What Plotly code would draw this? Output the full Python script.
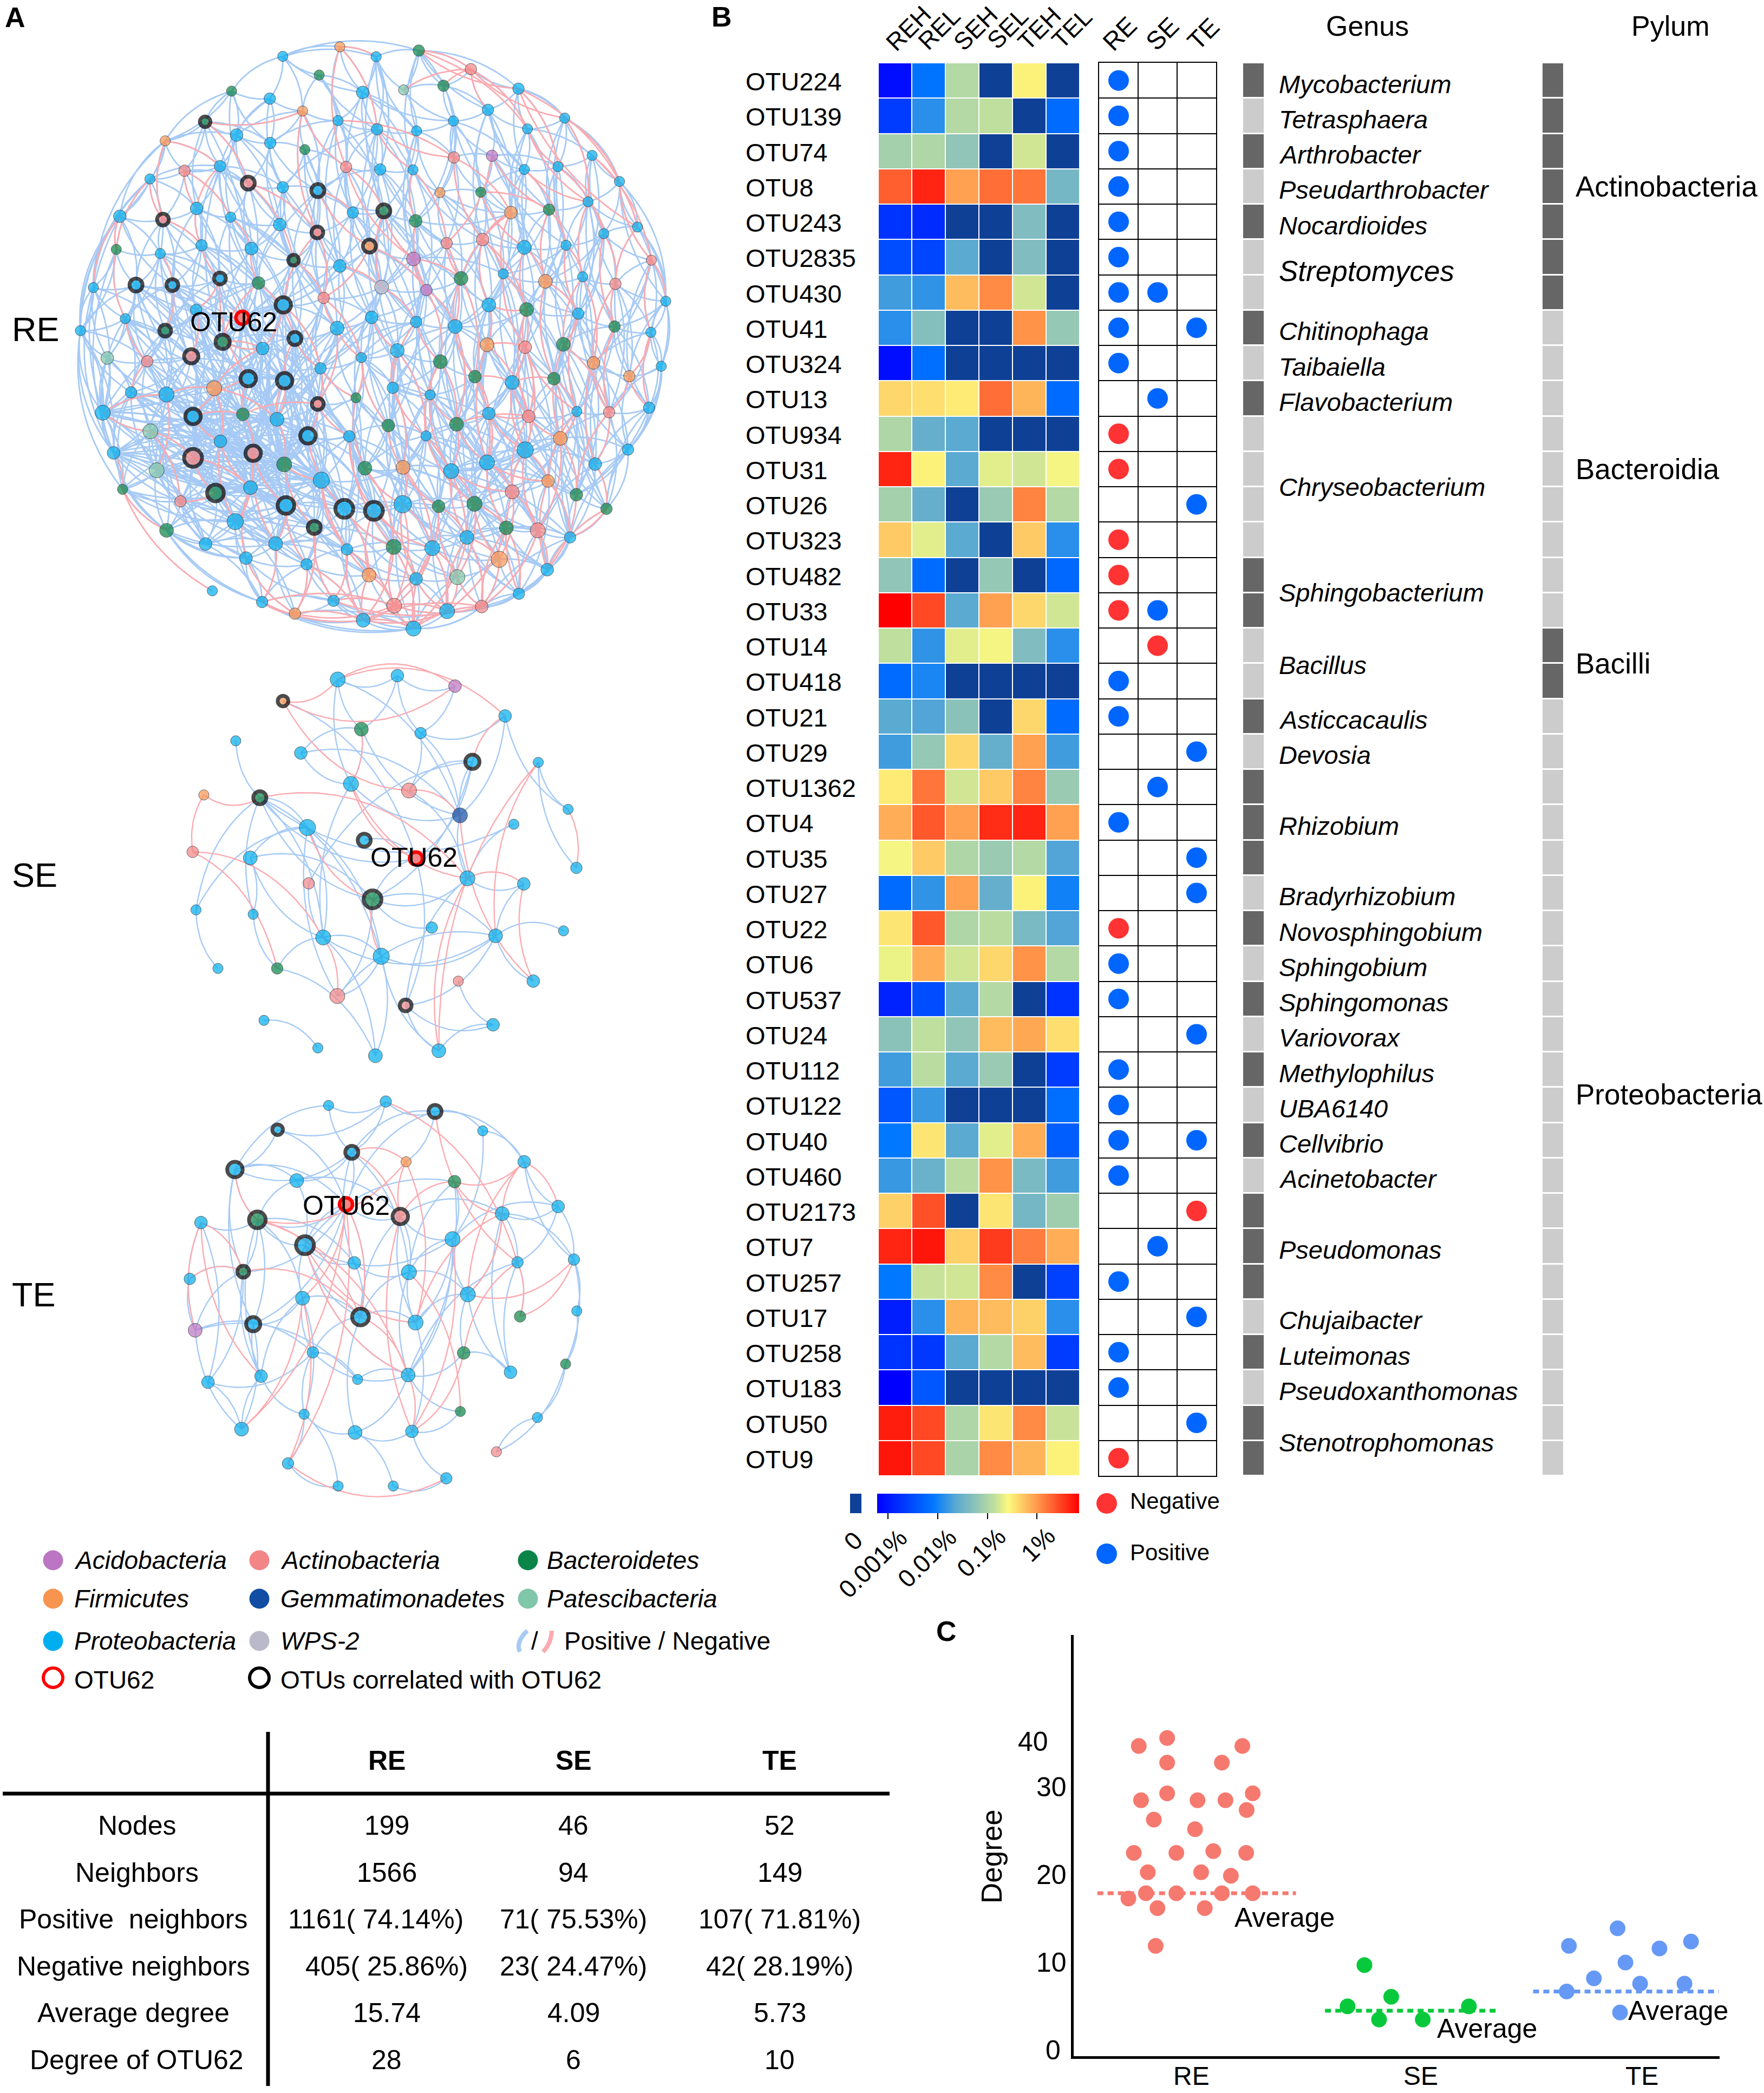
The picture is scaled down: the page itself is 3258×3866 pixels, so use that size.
import plotly.graph_objects as go

W, H = 3258, 3866
FONT = "Liberation Sans"

# ---------- panel B data ----------
otus = ["OTU224","OTU139","OTU74","OTU8","OTU243","OTU2835","OTU430","OTU41","OTU324","OTU13",
        "OTU934","OTU31","OTU26","OTU323","OTU482","OTU33","OTU14","OTU418","OTU21","OTU29",
        "OTU1362","OTU4","OTU35","OTU27","OTU22","OTU6","OTU537","OTU24","OTU112","OTU122",
        "OTU40","OTU460","OTU2173","OTU7","OTU257","OTU17","OTU258","OTU183","OTU50","OTU9"]
samples = ["REH","REL","SEH","SEL","TEH","TEL"]

# colour position, None = the dark "0" cells
N = None
heat_rows = [
    [.03,.27,.56,N,.66,N],[.14,.33,.56,.58,N,.25],[.53,.55,.49,N,.60,N],[.87,.95,.78,.85,.84,.44],
    [.12,.10,N,N,.46,N],[.18,.16,.39,N,.46,N],[.36,.34,.74,.81,.60,N],[.33,.47,N,N,.80,.50],
    [.03,.26,N,N,N,N],[.70,.69,.67,.85,.75,.25],[.55,.41,.39,N,N,N],[.95,.66,.39,.62,.60,.64],
    [.53,.41,N,.51,.82,.56],[.72,.62,.39,N,.72,.33],[.49,.25,N,.50,N,.24],[1.0,.90,.39,.78,.70,.60],
    [.58,.34,.62,.64,.46,.33],[.25,.31,N,N,N,N],[.39,.38,.48,N,.70,.25],[.36,.50,.70,.41,.78,.36],
    [.67,.84,.60,.72,.82,.51],[.76,.88,.78,.94,.95,.78],[.64,.72,.55,.51,.56,.38],[.25,.34,.78,.41,.66,.30],
    [.68,.88,.55,.57,.45,.38],[.63,.76,.60,.70,.80,.56],[.08,.18,.39,.56,N,.12],[.48,.58,.49,.74,.77,.69],
    [.36,.57,.39,.51,N,.14],[.20,.35,N,N,N,.26],[.28,.68,.39,.62,.76,.22],[.35,.42,.57,.80,.45,.36],
    [.71,.89,N,.68,.44,.52],[.95,.97,.71,.92,.83,.76],[.28,.59,.60,.81,N,.15],[.07,.33,.75,.74,.71,.33],
    [.12,.13,.39,.56,.74,.14],[.0,.20,N,N,N,N],[.96,.90,.55,.68,.81,.59],[.97,.90,.54,.81,.75,.66],
]
heat_scale = [[0,"#0000ff"],[.28,"#0078ff"],[.39,"#5aaad2"],[.47,"#85bfbd"],[.58,"#bfdf9e"],[.65,"#fdf97d"],
              [.79,"#ff9a4c"],[1,"#ff0000"]]
bar_ticks = [.054,.30,.547,.791]
bar_labels = ["0.001%","0.01%","0.1%","1%"]

# 1 positive, -1 negative, 0 not significant
sig_re = [1,1,1,1,1,1,1,1,1,0,-1,-1,0,-1,-1,-1,0,1,1,0,0,1,0,0,-1,1,1,0,1,1,1,1,0,0,1,0,1,1,0,-1]
sig_se = [0,0,0,0,0,0,1,0,0,1,0,0,0,0,0,1,-1,0,0,0,1,0,0,0,0,0,0,0,0,0,0,0,0,1,0,0,0,0,0,0]
sig_te = [0,0,0,0,0,0,0,1,0,0,0,0,1,0,0,0,0,0,0,1,0,0,1,1,0,0,0,1,0,0,1,0,-1,0,0,1,0,0,1,0]

genus_band = [1,0,1,0,1,0,0,1,0,1,0,0,0,0,1,1,0,0,1,0,1,1,1,0,1,0,1,0,1,0,1,0,1,1,1,0,1,0,1,1]
phylum_band = [1]*7 + [0]*9 + [1]*2 + [0]*22
genus_names = ["Mycobacterium","Tetrasphaera","Arthrobacter","Pseudarthrobacter","Nocardioides","Streptomyces",
               "Chitinophaga","Taibaiella","Flavobacterium","Chryseobacterium","Sphingobacterium","Bacillus",
               "Asticcacaulis","Devosia","Rhizobium","Bradyrhizobium","Novosphingobium","Sphingobium",
               "Sphingomonas","Variovorax","Methylophilus","UBA6140","Cellvibrio","Acinetobacter",
               "Pseudomonas","Chujaibacter","Luteimonas","Pseudoxanthomonas","Stenotrophomonas"]
genus_rows = [0,1,2,3,4,5.3,7,8,9,11.4,14.4,16.45,18,19,21,23,24,25,26,27,28,29,30,31,33,35,36,37,38.45]
phylum_names = ["Actinobacteria","Bacteroidia","Bacilli","Proteobacteria"]
phylum_rows = [3,11,16.5,28.7]

# ---------- panel A data ----------
phy_colors = {"C":"#BC75C2","A":"#F28585","B":"#0A8547","F":"#F79550","G":"#114EA3",
              "S":"#80C6A9","P":"#00AEEF","W":"#B9B9C9"}
legend_names = [("Acidobacteria","C"),("Actinobacteria","A"),("Bacteroidetes","B"),
                ("Firmicutes","F"),("Gemmatimonadetes","G"),("Patescibacteria","S"),
                ("Proteobacteria","P"),("WPS-2","W")]

# RE network, nodes, listed in horizontal bands
re_x = [516,601,630,711,757,808,838,899,933,988,1049,1155,
        368,457,527,602,674,753,840,928,1010,1087,1175,1258,
        334,411,490,553,630,679,708,771,847,920,980,1011,1071,1096,1168,1243,1319,1380,
        267,363,438,514,623,707,786,855,926,1138,1223,1310,1420,
        259,357,449,560,654,757,823,921,995,1075,1168,1261,1345,1451,
        208,303,384,490,576,631,721,850,950,1027,1089,1121,1215,1298,1371,1483,
        179,279,368,437,496,540,657,751,828,927,1014,1173,1288,1369,1450,
        239,328,426,553,585,634,714,805,885,981,1058,1085,1141,1170,1234,1255,1322,1402,1473,
        229,292,371,430,477,541,617,708,793,865,875,958,1017,1089,1178,1285,1357,1446,
        253,335,349,430,491,564,633,686,778,813,898,949,1005,1085,1170,1248,1326,1399,
        273,402,480,558,637,716,767,833,897,977,1057,1141,1221,1284,1351,
        371,458,524,614,700,773,877,963,1040,1128,1198,1270,
        473,548,683,822,927,1019,1112,1156,1219,
        584,657,743,809,878,921,996,1073]
re_y = [220,238,136,181,113,223,137,217,122,207,167,214,
        340,294,326,345,268,291,312,316,292,265,311,285,
        432,412,401,442,452,361,460,403,409,410,465,380,464,376,409,402,375,438,
        522,530,503,524,542,561,513,509,533,513,506,487,548,
        602,612,592,600,628,642,594,625,587,578,597,592,564,628,
        694,688,688,672,683,736,719,693,700,672,736,661,679,668,685,727,
        798,769,798,748,825,767,817,792,766,777,788,747,757,788,802,
        864,872,860,914,841,919,889,863,846,873,909,832,923,838,914,831,876,908,884,
        996,947,952,1005,937,1000,1012,975,960,1027,936,953,1024,998,1005,993,995,984,
        1093,1041,1135,1105,1065,1094,1121,1052,1053,1130,1128,1052,1137,1116,1086,1058,1120,1085,
        1181,1210,1190,1177,1220,1159,1228,1233,1217,1222,1216,1187,1161,1194,1228,
        1280,1313,1259,1312,1273,1326,1320,1323,1297,1274,1280,1297,
        1426,1347,1362,1388,1397,1393,1350,1433,1375,
        1453,1481,1450,1497,1462,1517,1475,1464]
re_w = [1,1.5,1,1,1,2,1,1,1.5,1.5,1.5,1.5,
        1,1,2,1.5,1,1,1.5,1,1,1.5,1,1,
        1,1.5,1.5,2,1.5,1,2,1.5,1.5,1,1,1.5,1,1.5,1,1,1,1,
        2,1.5,2,1,2,1.5,1.5,2,2,2,1.5,1,1,
        1,1,1.5,2,1,2,2,2.5,1.5,2,2.5,1,1,1,
        1,2,1.5,1.5,2,3,1.5,2.5,1.5,2.5,2.5,1,2.5,1,1.5,1,
        1,1,1.5,1.5,2.5,2,2,2.5,2,1.5,2.5,2.5,1.5,1.5,1,
        2,1.5,2.5,3,2,3,1.5,1,2.5,2.5,2,2.5,2.5,2,2,2.5,2,1.5,1,
        3,1.5,3,3,3,2,2.5,1.5,1,2,1.5,1,2.5,2,2,1,1.5,1.5,
        2,3,3,4,2,3,3,3,1.5,2.5,2.5,1,3,3,3.5,2.5,2,1.5,
        1,1.5,3.5,2.5,3.5,3.5,4,4,4,2,3,2.5,2,2,1.5,
        2.5,2,3.5,2.5,2,1.5,3,3,2.5,2.5,3,1.5,
        1,2,1.5,2.5,2,3,3.5,1.5,2,
        1.5,1.5,1.5,2.5,3,3,3,2]
re_phy = ("BPPBFPPSBBAP" "FBPPFPPPPPPP" "PAPAPBPAPPFABCPPPP" "PAPPPAPBBFBPP" "BPPPBPFCAAPPPA"
          "PPPPBPAWCBPPFPAP" "PPBPBAPPPPPBPBP" "SAAPPPPPPBBFPABBFFP" "PPPPFBPABBPPBPAPAP"
          "PSSAPABPPBFPPPPFPP" "BABPPPPPPBBAFBB" "BPPPBPBPPBAP" "PPPFPSFPP" "PFPPAPPA")
re_rings = [13,27,30,43,47,49,59,61,70,71,72,74,87,89,91,102,103,105,122,126,140,142,144,157,159,161,162,174]
re_otu62 = 90

# The picture has 1566 edges that cannot be traced one by one: these links are
# hand estimates (source: targets) that follow where the web is dense, not a tracing.
re_pos = {
 0:[1,13,14,15,12,27],1:[2,14,15,16,28,26],2:[6,3,5,4,16],3:[5,17,18,16,31],4:[6,17,5,18],
 5:[6,18,19,32,20,17],6:[7,8,19,18,32],7:[8,9,19,20],8:[9,20,10,19,21,33],9:[20,21,10,35],
 10:[21,22,11],11:[22,23,21,39,38],12:[13,14,24,25,26,43,42],13:[14,15,26,25,27,44,16],
 14:[15,26,27,28,45,46,16],15:[16,28,27,29,46,30,17],16:[17,29,30,31,47],17:[18,31,30,32,48],
 18:[19,32,33,31,49,48],19:[20,33,34,35,50],20:[21,35,34,36,37,38],21:[22,37,36,38,51],
 22:[23,38,39,40,52],23:[39,40,41,53],24:[25,26,42,43,44,55,56],25:[26,27,43,44,45,57],
 26:[27,28,44,45,46,57,58],27:[28,45,46,58,47],28:[29,30,46,47,59,58],29:[30,31,47,48,60],
 30:[31,32,47,48,49,60,59],31:[32,48,49,60,61],32:[33,49,50,61,62],33:[34,50,61,62,63],
 34:[35,36,50,63,64,51],35:[36,37,64,63],36:[37,38,51,64,65],37:[38,39,51,65,52],38:[39,51,52,65,66],
 39:[40,52,53,66,67],40:[41,53,54,67],41:[53,54,68,67,84],42:[43,55,56,69,70,71,85],43:[44,56,57,70,71,72],
 44:[45,57,58,71,72,73],45:[46,58,59,72,73,74],46:[47,58,59,73,74,75],47:[48,59,60,74,75,92],
 48:[49,60,61,75,76,93],49:[50,61,62,76,77],50:[51,62,63,76,77,78],51:[52,64,65,78,79,80],
 52:[53,65,66,80,81,82],53:[54,66,67,81,82,83],54:[67,68,83,84],55:[56,69,70,85,86],
 56:[57,70,71,72,86,87],57:[58,71,72,73,87,88,89],58:[59,72,73,74,89,91],59:[60,73,74,75,91,92],
 60:[61,74,75,76,92,93],61:[62,75,76,77,93,94],62:[63,76,77,78,94,95],63:[64,77,78,79,95],
 64:[65,78,79,80,95,96],65:[66,79,80,81,96,97],66:[67,80,81,82,96,97],67:[68,81,82,83,97,98],
 68:[83,84,98,99],69:[70,85,86,87,119,100],70:[71,85,86,87,88,101,100],71:[72,86,87,88,89,101,102],
 72:[73,87,88,89,102,103,104],73:[74,88,89,91,103,104,105],74:[75,89,91,92,104,105,106,103],
 75:[76,91,92,93,105,106,107],76:[77,92,93,94,107,108],77:[78,93,94,95,108,109],78:[79,94,95,109,110,111],
 79:[80,95,96,110,111,112,113],80:[81,96,97,112,113,114],81:[82,96,97,113,114,115],82:[83,97,98,115,116],
 83:[84,98,99,116,117],84:[99,117,118,98],85:[86,100,101,119,120,137],86:[87,100,101,102,119,120,121],
 87:[88,101,102,103,120,121,122],88:[89,102,103,104,121,122,123],89:[91,102,103,104,105,122,123,124],
 91:[92,104,105,106,124,125,126],92:[93,105,106,107,125,126,127],93:[94,106,107,108,126,127,128,129],
 94:[95,107,108,109,128,129,130],95:[96,108,109,110,111,130,131,132],96:[97,111,112,113,114,132,133],
 97:[98,114,115,116,133,134],98:[99,115,116,117,134,135],99:[116,117,118,135,136],
 100:[101,119,120,121,137,138],101:[102,119,120,121,122,138,139],102:[103,120,121,122,123,138,139,140],
 103:[104,105,122,123,124,125,140,141,142],104:[105,106,123,124,125,126,141,142,143],
 105:[106,124,125,126,142,143,144],106:[107,125,126,127,143,144,145],107:[108,126,127,128,129,145,146],
 108:[109,128,129,130,146,147,148],109:[110,129,130,131,147,148,149],110:[111,130,131,132,149,150],
 111:[112,131,132,150,151],112:[113,132,133,150,151,152],113:[114,133,134,151,152],114:[115,133,134,152,153],
 115:[116,134,135,152,153],116:[117,134,135,136,153,154],117:[118,135,136,154],118:[136,154,135],
 119:[120,137,138,139,155,100,121,122],120:[121,137,138,139,140,155],121:[122,137,138,139,140,141,156,157],
 122:[123,138,139,140,141,142,156,157,158],123:[124,139,140,141,142,143,157,158,159],
 124:[125,140,141,142,143,144,158,159,160],125:[126,141,142,143,144,145,159,160,161],
 126:[127,143,144,145,146,160,161,162],127:[128,144,145,146,147,161,162,163],128:[129,145,146,147,148,162,163,164],
 129:[130,146,147,148,163,164],130:[131,147,148,149,163,164,165],131:[132,148,149,150,164,165,166],
 132:[133,149,150,151,165,166,167],133:[134,150,151,152,166,167,168],134:[135,151,152,153,167,168,169],
 135:[136,152,153,154,168,169],136:[153,154,169,168],137:[138,155,156,170,171,139,119,157],
 138:[139,140,155,156,157,170,171,172],139:[140,141,155,156,157,158,170,171,172],
 140:[141,142,156,157,158,159,171,172,173],141:[142,143,157,158,159,160,172,173,174],
 142:[143,144,158,159,160,161,172,173,174,175],143:[144,145,159,160,161,162,173,174,175],
 144:[145,146,160,161,162,174,175,176],145:[146,147,161,162,163,175,176],146:[147,148,162,163,164,175,176,177],
 147:[148,149,163,164,165,176,177,178],148:[149,150,164,165,177,178],149:[150,151,164,165,166,177,178,179],
 150:[151,152,165,166,167,178,179,180],151:[152,153,166,167,168,179,180,181],152:[153,154,167,168,169,180,181],
 153:[154,168,169,181,180],154:[169,168,181],155:[156,170,171,172],156:[157,158,170,171,172,183],
 157:[158,159,171,172,173,183,184],158:[159,160,172,173,174,183,184],159:[160,161,173,174,175,184,183,185],
 160:[161,162,174,175,176,184,185],161:[162,163,175,176,185,186,184],162:[163,164,176,177,185,186],
 163:[164,165,176,177,178,186,187],164:[165,166,177,178,186,187,188],165:[166,167,178,179,187,188,189],
 166:[167,179,180,188,189,190],167:[168,180,181,189,190],168:[169,181,190],169:[181,190],
 170:[171,172,183,191],171:[172,173,183,191],172:[173,174,183,184,191,192],173:[174,175,183,184,185,191,192,193],
 174:[175,176,184,185,192,193,194],175:[176,177,184,185,186,193,194,195],176:[177,178,185,186,187,194,195,196],
 177:[178,179,186,187,188,195,196,197],178:[179,180,187,188,189,196,197,198],179:[180,181,188,189,190,197,198],
 180:[181,189,190,198],181:[190,189,198],183:[184,191,192],184:[185,191,192,193,194],185:[186,193,194,195,196],
 186:[187,195,196,197],187:[188,196,197,198],188:[189,190,197,198],189:[190,198,197],190:[198],
 191:[192,193,194,196],192:[193,194,196],193:[194,195,196],194:[195,196,197],195:[196,197,198],196:[197,198],197:[198],
}
re_neg = {
 4:[18,6,31],8:[10,11,22],10:[22,23,9,21,7],11:[41,39,54],12:[43,26],13:[27,16],16:[31,47],17:[35],18:[33,35],
 22:[39,53],23:[41,53],24:[43,55],25:[45,44],27:[47,59],30:[61,48],31:[49,62],33:[63,50],35:[64,51],36:[65,52],
 37:[52,63],38:[66,53],39:[67],40:[68,54],41:[68],42:[69,55],43:[57],47:[75,74],49:[62,76],50:[77],51:[64,78,80],
 52:[66,81],53:[67,82],54:[83],55:[86],57:[72],59:[75],60:[76],61:[77,75],62:[78,77],63:[78,95],64:[79,96,80],
 65:[81,96],66:[82,97],67:[83,98],68:[84,99],73:[91],75:[92,107],76:[94],77:[95,109],78:[110,95],79:[111,96],
 80:[113,96],81:[114,97],82:[115,116],83:[116,98],86:[101],88:[102],91:[106],92:[107,126],93:[108],94:[109,129],
 95:[110,131],96:[112,113,133],97:[115,134],98:[116,135],99:[117,136],101:[120],106:[126,127],107:[127,128],
 108:[129,148],109:[131,148,130],110:[132,150,112],111:[113,133,150],112:[133,151,114],113:[133,134,151],
 114:[134,152],115:[135,152],116:[135,153],117:[136,135],126:[145,144],127:[146],128:[147],129:[147,148],
 130:[149,131],131:[149,150,133],132:[150,133,151],133:[151,152,166],134:[152,167],135:[153,168],137:[155],
 144:[161],145:[162,176],146:[163,176],147:[164,177,163],148:[165,178],149:[165,166,178],150:[166,167,179],
 151:[166,167,180],152:[168,180],153:[169],155:[182,170],156:[157],160:[175,185],161:[176,185],162:[177,185,186],
 163:[177,186,195],164:[178,187,186],165:[179,188,187],166:[180,189,188],167:[181,190],168:[190],169:[190,181],
 173:[191],174:[193,192],175:[193,194,195],176:[194,195,196],177:[195,196,187,197],178:[196,197,188,198],
 179:[197,198,189],180:[198,190],183:[192],184:[192,194],185:[194,195],186:[195,197],187:[197,198],188:[198],
 191:[192,194,195],192:[195,194],193:[195,198],194:[195,196,197,198],195:[197,198,196],196:[198],
}
# pink threads inside the dense lower left
re_neg_left = {
 119:[121,138],121:[139,123],122:[124,141],123:[141,125],124:[142,126],125:[143,105],103:[122,124],104:[123,89],
 105:[125,91],89:[104,73],72:[88,103],71:[87,56],58:[73,45],44:[57,26],138:[156,140],140:[157,158],141:[158,172],
 142:[159,173],143:[160,174],158:[172,183],159:[173,184],74:[106,104],
}
# long links across the dense lower left
re_long = {
 119:[125,104,159,73,141,158,143,160,123,124],121:[124,105,160,142,159,143,174,104],137:[143,159,174,141,125,124,160,173],
 70:[104,124,142,105,141,143],71:[105,125,141,142,123],74:[125,143,160,144,142,159,161],
 105:[141,158,161,143,160,145],103:[159,173,143,158,160],91:[143,160,144,125],123:[144,159,105,125,160,174],
 138:[158,124,142,125,143,159,173],151:[178,130,112,149,165],150:[130,177,149,164],95:[148,80,149],108:[177,147,148],
 56:[88,122,104,123],86:[122,141,103,123,124],120:[103,142,158,141,125,143],139:[125,160,173,143,144,159],
 140:[105,160,175,143,144,161],141:[161,106,162,174,144],122:[106,143,161,144,160],101:[124,141,105,142],
 88:[125,143,124,142],57:[91,104,105],45:[91,104,75],26:[73,89,59],28:[75,92,18],6:[32,33,49],49:[78,108,94],
 62:[94,109,80],64:[110,112],79:[131,150],112:[165,148],113:[150,165],134:[150,166],152:[178,165],163:[148,187],
 176:[162,148],197:[165,186],155:[141,158,143],156:[141,143,159,173],170:[141,158,173],171:[159,143,160],
 172:[160,144,143,159],173:[160,162,145],158:[143,144,174],157:[142,143,160,144],160:[143,145,147],
 143:[105,125,126,106],144:[125,105,106,92],125:[92,93],124:[91,74,75],106:[93,94],107:[94,130],128:[148,149],
 129:[95,131],130:[150,165],148:[178,188],149:[167,152],164:[188,189],165:[190,180],178:[190,198],
}
# more estimated links over the top, middle and right of the web
re_extra = {
 5:[33,48],17:[49,60],18:[50,61],19:[49,62],20:[51,50],21:[52,64],22:[65,51],23:[66,52],
 30:[74,75],31:[76,61],32:[76,63],33:[77,64],34:[78,65],36:[79,80],37:[80,66],38:[81,80],39:[82,81],40:[83,82],
 47:[92,93],48:[94,76],49:[95,93],50:[95,79],51:[96,81],52:[97,96],53:[98,97],
 59:[106,92],60:[107,94],61:[108,95],62:[109,93],63:[110,94],64:[112,111],65:[113,114],66:[115,114],67:[116,115],68:[117,116],
 75:[126,106],76:[127,108],77:[129,130],78:[131,130],79:[132,133],80:[133,134],81:[134,135],82:[135,134],83:[136,135],
 92:[127,128],93:[129,130],94:[131,130],95:[133,150],96:[134,151],97:[135,152],98:[136,153],
 106:[145,146],107:[147,146],108:[148,149],109:[149,150],110:[151,165],111:[152,166],112:[152,167],113:[153,167],
 114:[153,168],115:[154,168],116:[169,168],126:[161,162],127:[163,162],128:[164,163],129:[165,164],130:[166,178],
 131:[167,179],132:[168,180],133:[169,181],134:[181,180],145:[177,176],146:[178,177],147:[179,178],148:[179,180],
 149:[180,181],150:[181,190],161:[186,194],162:[187,195],163:[188,196],164:[189,197],165:[190,198],
}
# arcs round the rim
re_rim = [(69,42),(42,12),(12,0),(0,2),(2,8),(8,11),(11,23),(23,41),(41,54),(54,84),(84,99),(99,118),(118,136),
          (136,154),(154,169),(169,181),(181,190),(190,189),(189,198),(198,196),(196,194),(194,191),(191,183),(183,170),
          (170,137),(137,119),(119,85),(85,69),(85,42),(69,24),(137,85),(24,85),(42,119),(12,69),(55,137),(69,137),(85,155),
          (41,84),(54,99),(68,118),(99,136),(118,154),(170,191),(183,193),(191,196),(193,197),(196,198)]

# SE and TE networks
se_x = [815,959,1098,683,1219,872,1015,569,726,1140,1299,847,987,492,627,1371,1110,1240,742,879,465,604,1004,
        1391,1128,745,1264,899,473,611,1042,1360,780,1196,920,526,669,1287,1106,814,979,637,1190,767,906,1059]
se_y = [54,47,66,93,120,144,151,165,187,203,204,243,255,263,268,289,300,316,322,345,366,377,378,
        395,414,423,424,452,471,479,503,509,521,518,555,577,577,600,600,627,644,671,679,721,735,726]
se_w = [3,2,2,1,2,2.5,1.5,1,2,2.5,1,3,3,1,2,1,3,1,3.5,2,1.5,2.5,2,1.5,3,1.5,2,4,1,1,1.5,1,3,2.5,3.5,1,1.5,2,1,3,1.5,1,2,1,2.5,2.5]
se_phy = "PPCFPBPPPPPPAFBPGPPPAPAPPAPBPPPPPPPPBPAAAPPPPP"
se_rings = [3,9,14,19,27,40]
se_otu62 = 22
se_pos = [(0,1),(0,5),(0,11),(0,16),(1,2),(1,6),(1,5),(2,6),(4,6),(4,15),(4,16),(5,8),(5,11),(5,16),(6,12),(6,16),
          (7,14),(8,11),(8,16),(9,12),(9,16),(9,27),(10,15),(10,23),(11,16),(11,32),(12,24),(14,18),(14,27),(14,32),
          (14,29),(14,17),(14,34),(17,24),(18,21),(18,32),(18,34),(18,39),(21,29),(21,27),(21,32),(25,9),(25,32),
          (27,30),(27,33),(27,39),(27,24),(28,35),(28,14),(28,18),(29,36),(32,34),(32,44),(32,33),(34,33),(34,45),
          (34,44),(36,44),(36,32),(39,34),(39,33),(40,24),(40,33),(40,45),(41,43),(42,45),(42,38),(42,40),(37,33),
          (33,31),(26,24),(26,33),(24,16)]
se_neg = [(3,0),(3,2),(3,12),(0,2),(0,4),(13,14),(13,20),(14,24),(20,36),(20,32),(5,11),(11,24),(11,22),(12,16),
          (16,37),(4,9),(15,23),(10,33),(10,45),(24,26),(26,37),(24,45),(18,27),(39,32),(27,34)]

te_x = [793,931,1050,670,1165,849,980,567,1265,716,1097,1347,835,1212,621,966,485,736,1092,1385,855,1249,587,987,458,1129,
        730,1392,870,1255,1003,471,611,755,1119,1365,502,630,985,863,1232,1111,734,1297,583,857,994,1198,695,1077,816,949]
te_y = [825,818,836,869,871,910,927,941,927,961,963,1008,1004,1021,1032,1026,1037,1078,1067,1104,1110,1109,1126,1127,1139,1167,
        1174,1197,1208,1207,1218,1232,1221,1272,1273,1293,1326,1315,1313,1321,1308,1379,1384,1390,1411,1417,1415,1452,1473,1500,1514,1514]
te_w = [1,1.5,2,1,1,2,1,3,2,2.5,2,2,2,2.5,3.5,3,2,4,3,1.5,2,1.5,1.5,3,1.5,3,2.5,1,3.5,1.5,3,2.5,2.5,1.5,2,1,2,2,2.5,1,2,1,1,1,2.5,2.5,2,1,1.5,1.5,1,1]
te_phy = "PPPPPPFPPPBPAPBAPPPPPPBPPPPPPBPCPPBBPPPPPBPPPPPAPPPP"
te_rings = [2,3,5,7,14,15,17,22,28,32]
te_otu62 = 12
te_pos = [(0,7),(0,1),(1,2),(1,3),(0,5),(1,5),(2,4),(2,8),(2,5),(2,6),(3,7),(4,8),(4,18),(5,9),(5,20),(5,23),(5,7),
          (7,14),(7,9),(7,22),(7,32),(8,11),(8,19),(9,14),(9,17),(9,15),(10,17),(10,18),(10,23),(10,38),(11,19),(11,13),
          (11,21),(11,18),(13,21),(13,25),(13,40),(13,19),(14,17),(14,22),(14,32),(14,16),(14,20),(14,26),(14,37),
          (15,18),(15,23),(15,30),(15,28),(15,13),(16,31),(16,36),(17,20),(17,18),(17,26),(17,28),(17,38),(18,23),
          (18,25),(18,30),(18,38),(19,27),(19,35),(20,23),(20,28),(21,40),(21,38),(21,29),(22,31),(22,37),(22,36),
          (23,25),(23,28),(23,30),(23,38),(24,31),(24,22),(25,30),(25,40),(25,34),(26,28),(26,32),(26,33),(26,42),
          (26,37),(27,35),(28,30),(28,45),(28,33),(30,46),(31,33),(31,39),(31,44),(32,37),(32,44),(33,39),(33,38),
          (33,42),(34,38),(34,40),(35,43),(35,47),(36,44),(36,33),(37,42),(37,44),(38,39),(38,41),(42,45),(42,50),
          (42,48),(45,46),(45,51),(45,38),(46,41),(46,49),(47,43),(49,51),(50,48)]
te_neg = [(16,22),(16,37),(16,31),(24,22),(7,14),(14,28),(14,38),(12,28),(12,26),(12,44),(12,48),(5,15),(6,5),(6,14),
          (6,15),(6,30),(10,15),(10,13),(8,10),(8,13),(8,25),(1,21),(2,21),(13,30),(13,25),(15,46),(17,30),(17,38),
          (18,46),(21,29),(21,34),(19,25),(19,29),(11,8),(22,28),(26,44),(26,48),(23,41),(28,38),(34,46),(48,49),(38,46)]

# ---------- table ----------
table_cols = ["RE","SE","TE"]
table_rows = ["Nodes","Neighbors","Positive\u00a0 neighbors","Negative neighbors","Average degree","Degree of OTU62"]
table_re = ["199","1566","1161( 74.14%)","405( 25.86%)","15.74","28"]
table_se = ["46","94","71( 75.53%)","23( 24.47%)","4.09","6"]
table_te = ["52","149","107( 71.81%)","42( 28.19%)","5.73","10"]

# ---------- panel C data (x = group position with its jitter, y on the picture's tick scale) ----------
deg_re_x = [-.235,-.109,.225,-.109,.134,-.109,.271,-.225,.026,.150,.244,-.168,.015,-.257,-.068,.096,.242,-.195,.042,.174,-.281,-.203,-.068,.134,.271,-.152,.058,-.160]
deg_re_y = [34.7,35.6,34.7,32.8,32.8,29.3,29.3,28.5,28.5,28.5,27.4,26.3,25.2,22.5,22.5,22.7,22.5,20.3,20.3,19.9,17.3,17.9,17.9,17.9,17.9,16.2,16.2,11.9]
deg_se_x = [.767,.886,.692,1.231,.832,1.026]
deg_se_y = [9.7,6.1,5.0,5.0,3.5,3.5]
deg_te_x = [1.891,2.217,1.675,2.077,1.926,1.786,1.991,2.188,1.665,1.902]
deg_te_y = [13.9,12.4,11.9,11.6,10.0,8.2,7.6,7.6,6.7,4.3]
avg_re_x, avg_re_y = [-.419,.463], [17.9,17.9]
avg_se_x, avg_se_y = [.592,1.352], [4.5,4.5]
avg_te_x, avg_te_y = [1.516,2.34], [6.7,6.7]
degree_ticks = [0,10,20,30,35.2]
degree_labels = ["0","10","20","30","40"]


def fx(px):
    return px / W


def fy(px):
    return 1 - px / H


def pairs_of(links):
    return [(a, b) for a, targets in links.items() for b in targets]


def curves(xs, ys, pairs, bend=0.17, outward=False):
    cx0, cy0 = sum(xs) / len(xs), sum(ys) / len(ys)
    out_x, out_y = [], []
    for a, b in pairs:
        x0, y0, x1, y1 = xs[a], ys[a], xs[b], ys[b]
        sign = 1 if (a * 3 + b) % 2 else -1
        mx, my = (x0 + x1) / 2, (y0 + y1) / 2
        nx, ny = -(y1 - y0), (x1 - x0)
        if outward:
            sign = 1 if (nx * (mx - cx0) + ny * (my - cy0)) > 0 else -1
        qx, qy = mx + sign * bend * nx, my + sign * bend * ny
        for i in range(13):
            t = i / 12
            out_x.append((1 - t) ** 2 * x0 + 2 * t * (1 - t) * qx + t ** 2 * x1)
            out_y.append((1 - t) ** 2 * y0 + 2 * t * (1 - t) * qy + t ** 2 * y1)
        out_x.append(None)
        out_y.append(None)
    return out_x, out_y


fig = go.Figure()

# heatmap, the dark cells are a second flat layer
col_idx = list(range(len(samples)))
row_idx = list(range(len(otus)))
fig.add_trace(go.Heatmap(z=[[1 if v is None else None for v in r] for r in heat_rows], x=col_idx, y=row_idx,
                         colorscale=[[0, "#0E4096"], [1, "#0E4096"]], showscale=False, xgap=2, ygap=2, hoverinfo="skip"))
fig.add_trace(go.Heatmap(z=heat_rows, x=col_idx, y=row_idx, colorscale=heat_scale, zmin=0, zmax=1, xgap=2, ygap=2,
                         hoverinfo="skip",
                         colorbar=dict(orientation="h", x=fx(1620), xanchor="left", y=fy(2759), yanchor="top",
                                       len=373, lenmode="pixels", thickness=36, thicknessmode="pixels",
                                       xpad=0, ypad=0, outlinewidth=0, tickvals=bar_ticks, showticklabels=False,
                                       ticks="outside", ticklen=11, tickwidth=2, tickcolor="black")))

# significance dots
for col, sig in enumerate([sig_re, sig_se, sig_te]):
    for value, color in [(1, "#0066FF"), (-1, "#FF3333")]:
        rows = [i for i, v in enumerate(sig) if v == value]
        fig.add_trace(go.Scatter(x=[col] * len(rows), y=rows, mode="markers", xaxis="x2", yaxis="y2",
                                 marker=dict(size=38, color=color), hoverinfo="skip"))

# genus / phylum strips
band_scale = [[0, "#CCCCCC"], [1, "#666666"]]
fig.add_trace(go.Heatmap(z=[[v] for v in genus_band], y=row_idx, x=[0], xaxis="x3", yaxis="y3", colorscale=band_scale,
                         zmin=0, zmax=1, showscale=False, ygap=3, hoverinfo="skip"))
fig.add_trace(go.Heatmap(z=[[v] for v in phylum_band], y=row_idx, x=[0], xaxis="x4", yaxis="y4", colorscale=band_scale,
                         zmin=0, zmax=1, showscale=False, ygap=3, hoverinfo="skip"))

# networks
POS_COL, NEG_COL = "#A6CAF5", "#FBABB0"


def add_network(xs, ys, ws, phy, rings, otu62, pos, neg, xa, ya, line=2.4, bend=0.17):
    for pairs, color in [(pos, POS_COL), (neg, NEG_COL)]:
        ex, ey = curves(xs, ys, pairs, bend=bend)
        fig.add_trace(go.Scatter(x=ex, y=ey, mode="lines", xaxis=xa, yaxis=ya, hoverinfo="skip",
                                 line=dict(color=color, width=line)))
    plain = [i for i in range(len(xs)) if i not in rings and i != otu62]
    for code, color in phy_colors.items():
        ids = [i for i in plain if phy[i] == code]
        if ids:
            fig.add_trace(go.Scatter(x=[xs[i] for i in ids], y=[ys[i] for i in ids], mode="markers", xaxis=xa, yaxis=ya,
                                     hoverinfo="skip",
                                     marker=dict(size=[14.5 + 4.5 * ws[i] for i in ids], color=color,
                                                 line=dict(color="#222222", width=1))))
    fig.add_trace(go.Scatter(x=[xs[i] for i in rings], y=[ys[i] for i in rings], mode="markers", xaxis=xa, yaxis=ya,
                             hoverinfo="skip",
                             marker=dict(size=[15 + 4.5 * ws[i] for i in rings], color=[phy_colors[phy[i]] for i in rings],
                                         line=dict(color="black", width=7))))
    fig.add_trace(go.Scatter(x=[xs[otu62]], y=[ys[otu62]], mode="markers", xaxis=xa, yaxis=ya, hoverinfo="skip",
                             marker=dict(size=24, color=phy_colors["A"], line=dict(color="#FF0000", width=6.5))))


re_pairs = pairs_of(re_pos) + pairs_of(re_long) + pairs_of(re_extra) + [(re_otu62, r) for r in re_rings]
rx, ry = curves(re_x, re_y, re_rim, bend=0.2, outward=True)
fig.add_trace(go.Scatter(x=rx, y=ry, mode="lines", xaxis="x5", yaxis="y5", hoverinfo="skip",
                         line=dict(color=POS_COL, width=2.8)))
add_network(re_x, re_y, re_w, re_phy, re_rings, re_otu62, re_pairs, pairs_of(re_neg) + pairs_of(re_neg_left), "x5", "y5", 2.8)
add_network(se_x, se_y, se_w, se_phy, se_rings, se_otu62, se_pos + [(se_otu62, r) for r in se_rings], se_neg, "x6", "y6", 2.4, 0.24)
add_network(te_x, te_y, te_w, te_phy, te_rings, te_otu62, te_pos + [(te_otu62, r) for r in te_rings], te_neg, "x6", "y6", 2.4, 0.24)

# degree panel
groups = [(deg_re_x, deg_re_y, avg_re_x, avg_re_y, "#F6796F"), (deg_se_x, deg_se_y, avg_se_x, avg_se_y, "#08C93B"),
          (deg_te_x, deg_te_y, avg_te_x, avg_te_y, "#6699F5")]
for gx, gy, ax, ay, color in groups:
    fig.add_trace(go.Scatter(x=ax, y=ay, mode="lines", xaxis="x7", yaxis="y7", hoverinfo="skip",
                             line=dict(color=color, width=7, dash="11px,8px")))
    fig.add_trace(go.Scatter(x=gx, y=gy, mode="markers", xaxis="x7", yaxis="y7", hoverinfo="skip",
                             marker=dict(size=29, color=color)))

# ---------- texts and legend pieces ----------
notes = []
shapes = []


def text(s, x, y, size=46, anchor="center", italic=False, bold=False, angle=0, xref="paper", yref="paper"):
    notes.append(dict(text=s, x=x, y=y, xref=xref, yref=yref, xanchor=anchor, yanchor="middle", showarrow=False,
                      textangle=angle, borderpad=0,
                      font=dict(family=FONT, size=size, color="black", style="italic" if italic else "normal",
                                weight=700 if bold else 400)))


def dot(cx, cy, d, fill, line=None, lw=0):
    shapes.append(dict(type="circle", xref="paper", yref="paper", x0=fx(cx - d / 2), x1=fx(cx + d / 2),
                       y0=fy(cy + d / 2), y1=fy(cy - d / 2), fillcolor=fill,
                       line=dict(color=line or fill, width=lw)))


def rule(x0, y0, x1, y1, width):
    shapes.append(dict(type="line", xref="paper", yref="paper", x0=fx(x0), x1=fx(x1), y0=fy(y0), y1=fy(y1),
                       line=dict(color="black", width=width)))


def arc(x0, y0, xc, yc, x1, y1, color):
    shapes.append(dict(type="path", xref="paper", yref="paper",
                       path=f"M {fx(x0)} {fy(y0)} Q {fx(xc)} {fy(yc)} {fx(x1)} {fy(y1)}",
                       line=dict(color=color, width=8)))


text("A", fx(28), fy(32), 52, bold=True)
text("B", fx(1333), fy(31), 52, bold=True)
text("C", fx(1748), fy(3013), 52, bold=True)
text("RE", fx(66), fy(608), 63)
text("SE", fx(64), fy(1616), 63)
text("TE", fx(62), fy(2391), 63)
text("OTU62", 520, 778, 50, xref="x5", yref="y5")
text("OTU62", 999, 376, 50, xref="x6", yref="y6")
text("OTU62", 836, 1006, 50, xref="x6", yref="y6")

for name, cx in zip(samples, [1678, 1735, 1802, 1861, 1920, 1980]):
    text(name, fx(cx), fy(53), 45, angle=-45)
for name, cx in zip(table_cols, [2067, 2146, 2222]):
    text(name, fx(cx), fy(62), 47, angle=-45)
for i, name in enumerate(otus):
    text(name, fx(1376), i + 0.03, 47, anchor="left", yref="y")
text("Genus", fx(2525), fy(48), 52)
text("Pylum", fx(3085), fy(48), 52)
for name, row in zip(genus_names, genus_rows):
    text(name, fx(2361), row + 0.1, 53 if name == "Streptomyces" else 47, anchor="left", italic=True, yref="y")
for name, row in zip(phylum_names, phylum_rows):
    text(name, fx(2909), row, 53, anchor="left", yref="y")

# "0" box, colour bar labels and Negative / Positive key
shapes.append(dict(type="rect", xref="paper", yref="paper", x0=fx(1570), x1=fx(1591), y0=fy(2795), y1=fy(2759),
                   fillcolor="#0E4096", line=dict(width=0)))
text("0", fx(1576), fy(2846), 46, angle=-45)
for name, cx, cy in zip(bar_labels, [1612, 1712, 1812, 1917], [2888, 2878, 2868, 2853]):
    text(name, fx(cx), fy(cy), 46, angle=-45)
dot(2044, 2777, 38, "#FF3333")
dot(2044, 2870, 38, "#0066FF")
text("Negative", fx(2086), fy(2772), 42, anchor="left")
text("Positive", fx(2086), fy(2867), 42, anchor="left")

# phylum legend
legend_cells = [(98, 136, 2882), (479, 517, 2882), (975, 1009, 2882), (98, 136, 2953), (479, 517, 2953),
                (975, 1009, 2953), (98, 136, 3031), (479, 517, 3031)]
for (name, code), (cx, tx, cy) in zip(legend_names, legend_cells):
    dot(cx, cy, 37, phy_colors[code])
    text(name, fx(tx), fy(cy), 46, anchor="left", italic=True)
arc(974, 3012, 952, 3033, 960, 3051, POS_COL)
arc(1019, 3012, 1018, 3036, 1003, 3051, NEG_COL)
text("/", fx(987), fy(3031), 46)
text("Positive / Negative", fx(1041), fy(3031), 46, anchor="left")
dot(98, 3099, 36, "white", "#FF0000", 6)
dot(479, 3099, 36, "white", "black", 6)
text("OTU62", fx(136), fy(3103), 46, anchor="left")
text("OTUs correlated with OTU62", fx(517), fy(3103), 46, anchor="left")

# table
rule(495, 3199, 495, 3853, 7)
rule(5, 3313, 1643, 3313, 7)
for name, cx in zip(table_cols, [714, 1059, 1440]):
    text(name, fx(cx), fy(3252), 50, bold=True)
row_centres = [253, 253, 246, 246, 246, 252]
for i, cy in enumerate([3372, 3459, 3545, 3632, 3718, 3805]):
    text(table_rows[i], fx(row_centres[i]), fy(cy), 50)
    text(table_re[i], fx(694 if i == 2 else 714), fy(cy), 50)
    text(table_se[i], fx(1059), fy(cy), 50)
    text(table_te[i], fx(1440), fy(cy), 50)

# panel C labels
text("Degree", fx(1831), fy(3429), 53, angle=-90)
for value, label, right in zip(degree_ticks, degree_labels, [1960, 1971, 1971, 1971, 1937]):
    text(label, fx(right), value, 50, anchor="right", yref="y7")
for name, cx in zip(table_cols, [0, 1.017, 2]):
    text(name, cx, fy(3834), 48, xref="x7")
text("Average", fx(2372), fy(3542), 50)
text("Average", fx(2746), fy(3747), 50)
text("Average", fx(3099), fy(3714), 50)


def hidden(px0, px1, rng):
    return dict(domain=[fx(px0), fx(px1)], range=rng, visible=False, fixedrange=True)


def hidden_y(px_top, px_bottom, rng):
    return dict(domain=[fy(px_bottom), fy(px_top)], range=rng, visible=False, fixedrange=True)


row_range = [39.5, -0.5]
fig.update_layout(
    width=W, height=H, margin=dict(l=0, r=0, t=0, b=0, autoexpand=False), autosize=False, showlegend=False,
    paper_bgcolor="white", plot_bgcolor="rgba(0,0,0,0)", annotations=notes, shapes=shapes,
    xaxis=hidden(1622, 1994, [-0.5, 5.5]),
    yaxis=hidden_y(116, 2726, row_range),
    xaxis2=dict(domain=[fx(2030), fx(2246)], range=[-0.5, 2.5], anchor="y2", tickvals=[.5, 1.5], showticklabels=False,
                ticks="", showgrid=True, gridcolor="black", gridwidth=2, zeroline=False, showline=True,
                linecolor="black", linewidth=2, mirror=True, fixedrange=True),
    yaxis2=dict(domain=[fy(2726), fy(116)], range=row_range, anchor="x2",
                tickvals=[i + .5 for i in range(39)], showticklabels=False, ticks="", showgrid=True, gridcolor="black",
                gridwidth=2, zeroline=False, showline=True, linecolor="black", linewidth=2, mirror=True, fixedrange=True),
    xaxis3=dict(hidden(2296, 2334, [-0.5, 0.5]), anchor="y3"),
    yaxis3=dict(hidden_y(116, 2726, row_range), anchor="x3"),
    xaxis4=dict(hidden(2849, 2887, [-0.5, 0.5]), anchor="y4"),
    yaxis4=dict(hidden_y(116, 2726, row_range), anchor="x4"),
    xaxis5=dict(hidden(0, 1300, [0, 1568]), anchor="y5"),
    yaxis5=dict(hidden_y(0, 1200, [1568, 0]), anchor="x5"),
    xaxis6=dict(hidden(0, 1200, [0, 1568]), anchor="y6"),
    yaxis6=dict(hidden_y(1200, 2800, [1568, 0]), anchor="x6"),
    xaxis7=dict(domain=[fx(1983), fx(3176)], range=[-0.524, 2.344], anchor="y7", showticklabels=False, ticks="",
                showgrid=False, zeroline=False, showline=True, linecolor="black", linewidth=5, fixedrange=True),
    yaxis7=dict(domain=[fy(3798), fy(3020)], range=[-0.68, 47.35], anchor="x7", showgrid=False, zeroline=False,
                showline=True, linecolor="black", linewidth=5, showticklabels=False, ticks="", fixedrange=True),
)
# the browser's default 8px page margin would push the figure off the window
fig.write_html("out.html", config={"displayModeBar": False}, post_script="document.body.style.margin='0';")
